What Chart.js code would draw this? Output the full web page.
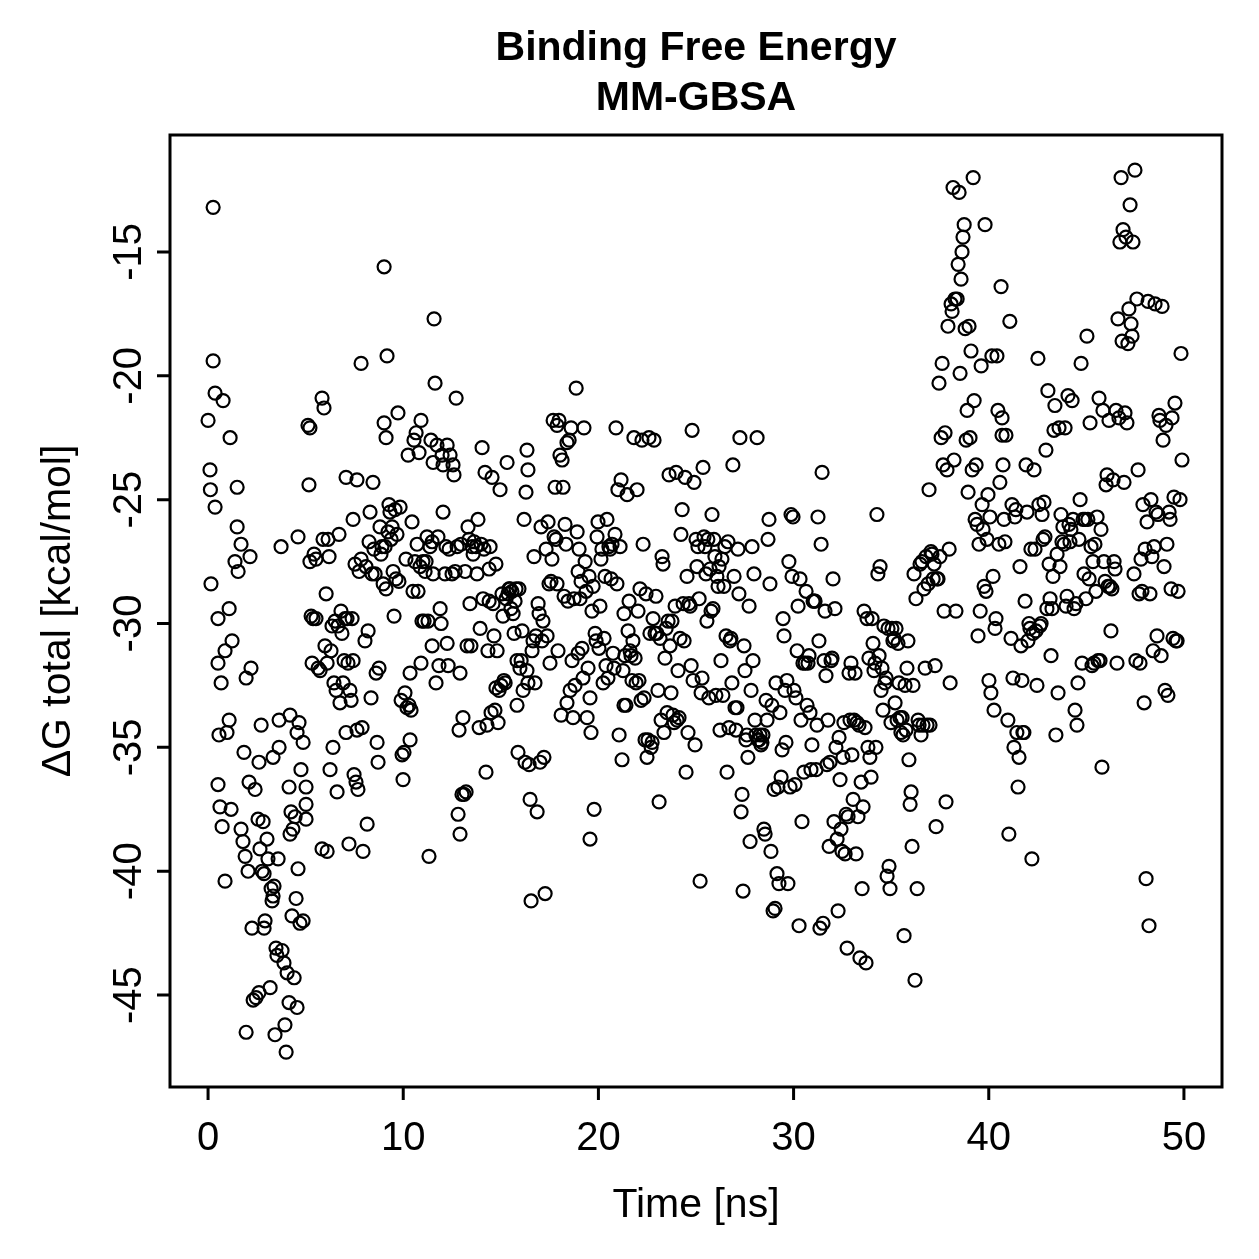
<!DOCTYPE html>
<html>
<head>
<meta charset="utf-8">
<script src="https://cdn.jsdelivr.net/npm/chart.js@4.4.0/dist/chart.umd.min.js"></script>
<style>
  html, body { margin: 0; padding: 0; background: #fff; }
  #wrap { width: 1259px; height: 1259px; }
</style>
</head>
<body>
<div id="wrap"><canvas id="chart" width="1259" height="1259"></canvas></div>
<script>
// time of each frame [ns]
const timeNs = [
  0.00,0.10,0.12,0.26,0.15,0.26,0.36,0.36,0.51,0.51,
  0.56,0.51,0.61,0.67,0.72,0.77,0.87,0.87,0.97,1.08,
  1.13,1.08,1.18,1.23,1.38,1.49,1.49,1.54,1.69,1.69,
  1.79,1.84,1.90,1.95,1.95,2.05,2.10,2.15,2.20,2.25,
  2.31,2.41,2.46,2.56,2.61,2.61,2.66,2.72,2.77,2.82,
  2.87,2.87,2.92,3.02,3.07,3.18,3.23,3.28,3.33,3.33,
  3.38,3.43,3.48,3.53,3.59,3.64,3.64,3.74,3.79,3.89,
  3.94,4.00,4.05,4.15,4.15,4.20,4.20,4.25,4.30,4.35,
  4.41,4.46,4.51,4.56,4.56,4.61,4.61,4.66,4.71,4.76,
  4.87,4.87,5.02,5.02,5.02,
  5.12,5.22,5.17,5.22,5.28,5.33,5.38,5.43,5.53,5.53,
  5.64,5.74,5.84,5.84,5.89,5.94,5.99,6.05,6.10,6.10,
  6.15,6.20,6.25,6.30,6.35,6.40,6.45,6.51,6.56,6.61,
  6.66,6.71,6.76,6.81,6.86,6.92,6.97,7.02,7.07,7.07,
  7.12,7.17,7.22,7.27,7.33,7.38,7.43,7.43,7.48,7.53,
  7.58,7.63,7.63,7.68,7.74,7.84,7.84,7.89,7.94,8.04,
  8.09,8.15,8.20,8.25,8.30,8.35,8.40,8.45,8.50,8.56,
  8.61,8.66,8.71,8.76,8.81,8.86,8.91,8.97,9.02,9.02,
  9.07,9.12,9.12,9.17,9.22,9.27,9.32,9.38,9.43,9.48,
  9.53,9.58,9.63,9.68,9.73,9.78,9.84,9.89,9.94,9.99,
  10.04,10.09,10.14,10.19,10.25,10.30,10.35,10.35,10.40,10.45,
  10.50,10.55,10.60,10.66,10.71,10.76,10.81,10.86,10.91,10.91,
  10.96,11.01,11.07,11.12,11.17,11.22,11.27,11.32,11.37,11.42,
  11.48,11.48,11.53,11.53,11.58,11.63,11.68,11.73,11.78,11.83,
  11.89,11.94,11.99,12.04,12.04,12.14,12.19,12.25,12.25,12.30,
  12.35,12.40,12.50,12.55,12.60,12.66,12.71,12.76,12.81,12.86,
  12.91,12.91,12.96,13.01,13.06,13.12,13.17,13.22,13.27,13.32,
  13.37,13.42,13.47,13.53,13.58,13.63,13.73,13.78,13.83,13.89,
  13.94,13.99,14.04,14.09,14.14,14.19,14.24,14.29,14.34,14.40,
  14.40,14.45,14.50,14.55,14.60,14.65,14.70,14.75,14.75,14.81,
  14.86,14.91,14.96,15.01,15.06,15.11,15.16,15.22,15.27,15.32,
  15.37,15.42,15.47,15.52,15.57,15.63,15.68,15.73,15.78,15.83,
  15.83,15.88,15.93,15.98,16.04,16.09,16.14,16.19,16.24,16.29,
  16.34,16.34,16.39,16.39,16.45,16.50,16.55,16.60,16.65,16.70,
  16.75,16.80,16.86,16.91,16.96,17.01,17.06,17.11,17.16,17.21,
  17.27,17.32,17.37,17.42,17.47,17.52,17.57,17.62,17.68,17.73,
  17.78,17.83,17.88,17.88,17.93,17.98,18.03,18.09,18.14,18.19,
  18.24,18.29,18.34,18.39,18.39,18.44,18.50,18.55,18.60,18.65,
  18.70,18.75,18.80,18.86,18.91,18.96,18.96,19.01,19.06,19.11,
  19.16,19.21,19.26,19.32,19.37,19.42,19.47,19.52,19.57,19.57,
  19.62,19.67,19.73,19.78,19.83,19.88,19.93,19.98,20.03,20.08,
  20.13,20.18,20.24,20.29,20.34,20.39,20.44,20.49,20.54,20.60,
  20.65,20.70,20.75,20.80,20.85,20.90,20.95,21.00,21.06,21.11,
  21.16,21.21,21.26,21.31,21.31,21.36,21.41,21.47,21.52,21.57,
  21.62,21.67,21.72,21.77,21.82,21.88,21.93,21.98,22.03,22.08,
  22.13,22.18,22.23,22.29,22.34,22.39,22.44,22.49,22.54,22.59,
  22.64,22.70,22.75,22.80,22.85,22.90,22.95,23.00,23.05,23.11,
  23.16,23.21,23.26,23.31,23.36,23.41,23.47,23.52,23.57,23.62,
  23.67,23.72,23.77,23.82,23.88,23.93,23.98,24.03,24.08,24.13,
  24.18,24.23,24.29,24.34,24.39,24.44,24.49,24.54,24.59,24.64,
  24.70,24.75,24.80,24.85,24.90,24.95,25.00,25.05,25.10,25.16,
  25.21,25.26,25.31,25.36,25.41,25.46,25.51,25.56,25.61,25.66,
  25.72,25.77,25.82,25.87,25.92,25.97,26.02,26.07,26.13,26.18,
  26.23,26.28,26.33,26.38,26.43,26.48,26.54,26.59,26.64,26.69,
  26.74,26.79,26.84,26.89,26.95,27.00,27.05,27.10,27.15,27.20,
  27.25,27.31,27.36,27.41,27.46,27.51,27.56,27.61,27.66,27.72,
  27.77,27.82,27.87,27.92,27.97,28.02,28.07,28.13,28.18,28.23,
  28.28,28.33,28.38,28.43,28.48,28.54,28.59,28.64,28.69,28.74,
  28.79,28.84,28.89,28.95,29.00,29.05,29.10,29.15,29.20,29.25,
  29.30,29.36,29.41,29.46,29.51,29.56,29.61,29.66,29.71,29.76,
  29.82,29.87,29.92,29.97,30.02,30.07,30.12,30.18,30.23,30.28,
  30.33,30.38,30.43,30.48,30.53,30.59,30.64,30.69,30.74,30.79,
  30.84,30.89,30.94,31.00,31.05,31.10,31.15,31.20,31.25,31.30,
  31.35,31.41,31.46,31.51,31.56,31.61,31.66,31.71,31.76,31.82,
  31.87,31.92,31.97,32.02,32.07,32.12,32.17,32.23,32.28,32.33,
  32.38,32.43,32.48,32.53,32.58,32.64,32.69,32.74,32.79,32.84,
  32.89,32.94,32.99,33.05,33.10,33.15,33.20,33.25,33.30,33.35,
  33.40,33.46,33.51,33.56,33.61,33.66,33.71,33.76,33.81,33.86,
  33.91,33.97,34.02,34.07,34.12,34.17,34.22,34.27,34.32,34.38,
  34.43,34.48,34.53,34.58,34.63,34.68,34.74,34.79,34.84,34.89,
  34.94,34.99,35.04,35.09,35.15,35.20,35.25,35.30,35.35,35.40,
  35.45,35.50,35.56,35.61,35.66,35.71,35.76,35.81,35.86,35.91,
  35.97,36.02,36.07,36.12,36.17,36.22,36.27,36.33,36.38,36.43,
  36.48,36.53,36.58,36.63,36.68,36.74,36.79,36.84,36.89,36.94,
  36.99,37.04,37.09,37.15,37.20,37.25,37.30,37.35,37.40,37.45,
  37.50,37.56,37.61,37.66,37.71,37.76,37.81,37.86,37.91,37.97,
  38.02,38.07,38.12,38.17,38.22,38.27,38.32,38.38,38.43,38.48,
  38.53,38.58,38.63,38.68,38.74,38.79,38.84,38.89,38.94,38.99,
  39.04,39.09,39.15,39.20,39.25,39.30,39.35,39.40,39.45,39.50,
  39.56,39.61,39.66,39.71,39.76,39.81,39.86,39.91,39.96,40.01,
  40.06,40.11,40.16,40.22,40.27,40.32,40.37,40.42,40.47,40.52,
  40.57,40.63,40.68,40.68,40.73,40.78,40.83,40.88,40.98,41.03,
  41.08,41.14,41.19,41.24,41.29,41.34,41.39,41.44,41.50,41.55,
  41.60,41.65,41.70,41.75,41.80,41.86,41.91,41.96,42.01,42.06,
  42.11,42.16,42.21,42.27,42.32,42.37,42.42,42.47,42.52,42.57,
  42.62,42.68,42.73,42.78,42.83,42.88,42.93,42.98,43.03,43.09,
  43.14,43.19,43.24,43.29,43.34,43.39,43.44,43.50,43.55,43.60,
  43.65,43.70,43.75,43.80,43.86,43.91,43.96,44.01,44.06,44.11,
  44.16,44.21,44.27,44.32,44.37,44.42,44.47,44.52,44.57,44.62,
  44.68,44.73,44.78,44.83,44.88,44.93,44.98,45.03,45.08,45.14,
  45.19,45.24,45.29,45.34,45.39,45.44,45.49,45.55,45.60,45.65,
  45.70,45.75,45.80,45.85,45.90,45.96,46.01,46.06,46.11,46.16,
  46.21,46.26,46.31,46.37,46.42,46.47,46.52,46.57,46.62,46.67,
  46.72,46.78,46.83,46.88,46.93,46.98,47.03,47.08,47.13,47.18,
  47.24,47.29,47.34,47.39,47.44,47.49,47.54,47.59,47.65,47.70,
  47.75,47.80,47.85,47.90,47.96,48.01,48.06,48.11,48.16,48.21,
  48.26,48.31,48.36,48.42,48.47,48.52,48.57,48.62,48.67,48.72,
  48.77,48.83,48.88,48.93,48.98,49.03,49.08,49.13,49.18,49.24,
  49.29,49.34,49.39,49.44,49.49,49.54,49.59,49.65,49.70,49.80,
  49.85,49.90
];

// ΔG total [kcal/mol] for each frame, same order as timeNs
const dGTotal = [
  -21.8,-23.8,-24.6,-13.2,-28.4,-19.4,-20.7,-25.3,-31.6,-29.8,
  -34.5,-36.5,-37.4,-32.4,-38.2,-21.0,-40.4,-31.1,-34.4,-33.9,
  -22.5,-29.4,-37.5,-30.7,-27.5,-26.1,-24.5,-27.9,-26.8,-38.3,
  -38.8,-35.2,-39.4,-46.5,-32.2,-40.0,-36.4,-27.3,-31.8,-42.3,
  -45.2,-36.7,-45.1,-37.9,-44.9,-35.6,-39.1,-34.1,-40.0,-38.0,
  -42.3,-40.1,-42.0,-38.7,-39.5,-44.7,-40.7,-41.2,-35.4,-41.0,
  -40.6,-46.6,-43.1,-43.4,-39.5,-35.0,-33.9,-26.9,-43.2,-43.7,
  -46.2,-47.3,-44.1,-36.6,-45.3,-33.7,-38.5,-37.6,-41.8,-38.3,
  -44.3,-37.8,-41.1,-34.4,-45.5,-26.5,-39.9,-34.0,-42.1,-35.9,
  -42.0,-34.8,-37.3,-36.6,-37.9,
  -22.0,-22.1,-24.4,-27.5,-29.7,-31.6,-29.8,-27.2,-27.4,-29.8,
  -31.8,-31.9,-39.1,-20.9,-26.6,-21.3,-30.9,-28.8,-39.2,-31.6,
  -26.6,-27.3,-35.9,-31.1,-30.1,-35.0,-32.4,-29.9,-32.7,-36.8,
  -30.1,-26.4,-33.2,-29.5,-30.4,-32.4,-31.5,-29.8,-24.1,-34.4,
  -29.8,-31.6,-38.9,-32.7,-33.1,-29.8,-25.8,-31.5,-36.1,-27.6,
  -36.4,-24.2,-34.3,-36.7,-27.9,-19.5,-27.4,-34.2,-39.2,-30.7,
  -27.7,-38.1,-30.3,-26.7,-25.5,-33.0,-28.0,-24.3,-27.0,-28.0,
  -32.0,-34.8,-35.6,-31.8,-26.1,-27.2,-26.9,-28.4,-15.6,-21.9,
  -26.9,-22.5,-28.6,-19.2,-26.3,-25.2,-25.5,-26.6,-26.1,-27.9,
  -29.7,-25.4,-28.2,-26.4,-21.5,-28.3,-25.3,-33.1,-35.3,-36.3,
  -35.2,-32.8,-27.4,-33.4,-23.2,-33.3,-32.0,-34.7,-33.5,-25.9,
  -28.7,-22.6,-27.5,-22.3,-26.8,-28.7,-23.1,-27.7,-31.6,-21.8,
  -29.9,-27.5,-29.9,-27.9,-27.5,-26.5,-29.9,-39.4,-26.9,-22.6,
  -26.7,-30.9,-23.5,-28.0,-17.7,-20.3,-32.4,-22.8,-26.5,-31.7,
  -29.4,-30.0,-23.2,-23.6,-25.5,-28.0,-26.9,-30.8,-22.8,-31.7,
  -27.0,-23.2,-28.0,-23.6,-24.0,-27.9,-20.9,-26.9,-37.7,-34.3,
  -32.0,-38.5,-26.8,-36.9,-33.8,-36.9,-27.9,-36.8,-30.9,-26.1,
  -26.6,-29.2,-30.9,-26.9,-27.2,-26.7,-26.9,-28.0,-25.8,-34.2,
  -30.2,-26.8,-22.9,-29.0,-27.0,-23.9,-36.0,-34.1,-31.1,-29.1,
  -27.8,-26.9,-33.6,-24.1,-29.2,-30.5,-33.5,-27.6,-32.6,-31.1,
  -34.0,-32.7,-24.6,-32.5,-28.8,-29.7,-32.3,-32.4,-29.0,-23.5,
  -28.8,-28.6,-28.6,-29.4,-28.7,-29.6,-30.4,-29.1,-28.6,-31.5,
  -33.3,-35.2,-28.6,-31.8,-31.5,-30.3,-32.7,-25.8,-35.6,-24.7,
  -31.9,-23.0,-32.4,-23.8,-35.7,-37.1,-41.2,-31.1,-30.7,-27.3,
  -32.4,-30.5,-37.6,-29.2,-29.6,-35.6,-26.1,-30.7,-29.9,-35.4,
  -40.9,-27.0,-30.5,-25.9,-28.4,-31.6,-28.3,-27.4,-21.8,-26.5,
  -24.5,-26.6,-22.0,-28.4,-31.1,-21.8,-23.2,-33.7,-23.4,-24.5,
  -28.9,-26.0,-26.8,-22.7,-33.2,-29.1,-22.6,-32.7,-22.1,-31.5,
  -33.8,-29.0,-32.5,-20.5,-26.3,-27.9,-31.2,-27.0,-29.0,-28.3,
  -31.0,-32.2,-22.1,-27.5,-28.7,-33.8,-31.8,-28.1,-33.0,-38.7,
  -34.4,-29.5,-28.5,-37.5,-30.4,-30.7,-26.5,-25.9,-31.0,-29.3,
  -27.4,-27.0,-32.4,-30.6,-28.1,-31.7,-25.8,-32.2,-26.9,-27.0,
  -28.2,-26.8,-31.2,-31.8,-26.4,-22.1,-28.4,-24.6,-34.5,-26.9,
  -24.2,-35.5,-31.9,-33.3,-29.6,-31.3,-33.3,-24.8,-30.3,-29.1,
  -31.1,-31.3,-32.3,-30.7,-22.5,-31.4,-32.4,-24.6,-29.5,-32.3,
  -28.6,-33.1,-22.6,-26.8,-33.0,-34.7,-28.8,-35.4,-34.7,-22.5,
  -30.4,-35.0,-34.8,-29.8,-22.6,-30.4,-28.9,-30.4,-32.7,-37.2,
  -30.6,-33.9,-27.3,-27.6,-34.4,-31.4,-30.2,-33.6,-29.9,-24.0,
  -30.9,-32.8,-29.9,-33.7,-34.0,-29.3,-23.9,-33.9,-31.9,-33.8,
  -30.6,-26.4,-25.4,-29.2,-30.7,-24.1,-36.0,-28.1,-34.4,-29.2,
  -29.3,-31.7,-22.2,-32.3,-24.3,-34.9,-26.6,-27.7,-26.9,-29.0,
  -40.4,-32.8,-32.2,-23.7,-26.5,-26.9,-28.0,-29.9,-26.6,-33.0,
  -27.8,-29.5,-25.6,-29.4,-26.6,-27.3,-32.9,-28.1,-28.5,-27.7,
  -34.3,-31.5,-27.4,-32.9,-28.5,-26.9,-30.5,-36.0,-26.7,-34.2,
  -30.7,-30.6,-32.4,-23.6,-28.1,-33.4,-34.3,-33.4,-27.0,-28.8,
  -22.5,-37.6,-36.9,-40.8,-30.9,-31.9,-34.7,-34.5,-35.4,-29.3,
  -38.8,-32.7,-26.9,-31.5,-28.0,-33.9,-34.5,-22.5,-34.7,-34.7,
  -34.5,-34.9,-34.8,-34.5,-38.3,-38.5,-33.1,-33.9,-26.6,-25.8,
  -28.4,-39.2,-33.3,-41.6,-36.7,-41.5,-32.4,-40.1,-36.6,-40.5,
  -33.6,-36.2,-35.1,-29.8,-30.5,-32.7,-34.8,-32.3,-40.5,-27.5,
  -36.6,-25.6,-28.1,-25.7,-32.7,-36.5,-33.0,-31.1,-29.3,-42.2,
  -28.2,-33.9,-38.0,-31.6,-36.0,-31.6,-28.7,-33.3,-31.6,-31.3,
  -33.6,-35.9,-34.9,-29.1,-29.1,-29.1,-35.9,-34.1,-25.7,-30.7,
  -42.3,-26.8,-23.9,-42.1,-31.5,-29.5,-32.1,-35.7,-33.9,-39.0,
  -35.6,-31.5,-31.4,-28.2,-38.0,-29.4,-35.0,-38.7,-41.6,-34.6,
  -36.3,-38.3,-39.2,-35.4,-34.0,-39.3,-37.7,-43.1,-37.8,-32.0,
  -33.9,-31.6,-35.3,-37.1,-33.9,-32.0,-39.3,-34.0,-37.8,-34.1,
  -43.5,-36.4,-40.7,-37.4,-29.5,-34.2,-43.7,-29.8,-35.0,-31.4,
  -35.4,-36.2,-29.8,-30.8,-31.9,-31.6,-35.0,-25.6,-28.0,-31.3,
  -27.7,-32.7,-31.8,-33.5,-30.1,-32.4,-32.2,-40.2,-30.2,-39.8,
  -40.7,-34.0,-30.2,-30.7,-30.6,-33.2,-30.2,-33.9,-30.8,-32.4,
  -33.8,-34.4,-33.8,-34.5,-42.6,-32.5,-34.3,-31.8,-30.7,-35.5,
  -37.3,-36.8,-39.0,-32.5,-28.0,-44.4,-29.0,-40.7,-33.9,-34.1,
  -27.6,-34.5,-27.5,-34.1,-28.6,-31.8,-27.3,-34.1,-28.4,-24.6,
  -34.1,-27.1,-27.2,-28.2,-27.6,-31.7,-38.2,-28.2,-28.2,-20.3,
  -27.3,-22.5,-19.5,-23.6,-29.5,-22.3,-37.2,-23.8,-18.0,-27.0,
  -32.4,-17.1,-17.4,-12.4,-23.4,-16.9,-29.5,-16.9,-15.5,-12.6,
  -19.9,-16.1,-15.0,-14.4,-13.9,-18.1,-22.6,-21.4,-24.7,-18.0,
  -22.5,-19.0,-23.8,-12.0,-21.0,-25.8,-23.6,-26.0,-30.5,-26.8,
  -29.5,-19.6,-25.2,-26.2,-28.5,-13.9,-28.7,-26.6,-24.8,-32.3,
  -25.7,-32.8,-19.2,-28.1,-33.5,-30.2,-29.8,-19.2,-21.4,-26.8,
  -24.3,-16.4,-21.7,-22.4,-23.6,-25.8,-26.7,-22.4,-33.9,-38.5,
  -17.8,-30.6,-25.2,-32.2,-35.0,-25.7,-25.4,-34.4,-36.6,-35.4,
  -27.7,-30.9,-32.3,-34.4,-34.4,-29.1,-23.6,-25.5,-30.7,-30.0,
  -30.2,-27.0,-39.5,-30.4,-23.8,-27.0,-30.3,-32.5,-19.3,-25.2,
  -30.1,-30.0,-25.6,-26.6,-25.1,-26.5,-23.0,-29.4,-20.6,-27.6,
  -29.0,-31.3,-29.4,-28.1,-22.2,-21.2,-34.5,-27.2,-32.8,-22.1,
  -27.7,-25.6,-26.7,-26.1,-26.8,-22.1,-29.3,-28.9,-20.8,-26.0,
  -26.7,-26.2,-21.0,-25.8,-29.4,-33.5,-29.2,-34.1,-32.4,-26.6,
  -25.0,-19.5,-31.6,-25.8,-28.0,-25.8,-29.0,-18.4,-25.8,-28.2,
  -21.9,-26.9,-31.7,-27.5,-31.6,-26.8,-28.7,-25.7,-31.5,-20.9,
  -31.5,-26.2,-35.8,-21.4,-27.5,-28.3,-24.4,-24.0,-28.5,-21.8,
  -28.5,-30.3,-28.6,-24.2,-27.5,-27.8,-21.4,-31.6,-17.7,-21.7,
  -14.6,-12.0,-18.6,-14.1,-24.3,-21.5,-14.4,-21.9,-18.7,-17.3,
  -13.1,-17.9,-18.4,-14.6,-28.0,-11.7,-31.5,-16.9,-23.8,-28.8,
  -31.6,-27.4,-28.7,-25.2,-33.2,-27.0,-40.3,-25.9,-17.0,-42.2,
  -28.8,-25.0,-27.3,-31.1,-26.9,-17.1,-25.5,-30.5,-25.6,-21.6,
  -21.8,-31.3,-17.2,-22.6,-27.7,-32.7,-22.0,-26.8,-32.9,-25.5,
  -25.8,-28.6,-21.7,-30.6,-24.9,-21.1,-30.7,-30.7,-28.7,-25.0,
  -19.1,-23.4
];

const xTicks = [0, 10, 20, 30, 40, 50];
const yTicks = [-45, -40, -35, -30, -25, -20, -15];
const titleLines = ['Binding Free Energy', 'MM-GBSA'];
const xLabel = 'Time [ns]';
const yLabel = 'ΔG total [kcal/mol]';

const FONT = '"Liberation Sans", Arial, Helvetica, sans-serif';

// R base-graphics look: box, outward ticks, rotated y labels, titles
const rAxes = {
  id: 'rAxes',
  afterDraw(chart) {
    const { ctx, chartArea: a, scales: { x, y } } = chart;
    const cx = (a.left + a.right) / 2;
    const cy = (a.top + a.bottom) / 2;
    ctx.save();
    ctx.strokeStyle = '#000';
    ctx.fillStyle = '#000';
    ctx.lineWidth = 3;
    ctx.strokeRect(a.left, a.top, a.right - a.left, a.bottom - a.top);

    ctx.beginPath();
    xTicks.forEach(v => {
      const px = x.getPixelForValue(v);
      ctx.moveTo(px, a.bottom);
      ctx.lineTo(px, a.bottom + 13);
    });
    yTicks.forEach(v => {
      const py = y.getPixelForValue(v);
      ctx.moveTo(a.left, py);
      ctx.lineTo(a.left - 13, py);
    });
    ctx.stroke();

    ctx.font = '40px ' + FONT;
    ctx.textAlign = 'center';
    ctx.textBaseline = 'alphabetic';
    xTicks.forEach(v => {
      ctx.fillText(String(v), x.getPixelForValue(v), 1150);
    });
    yTicks.forEach(v => {
      ctx.save();
      ctx.translate(141, y.getPixelForValue(v));
      ctx.rotate(-Math.PI / 2);
      ctx.fillText(String(v), 0, 0);
      ctx.restore();
    });

    ctx.font = '41px ' + FONT;
    ctx.fillText(xLabel, cx, 1217);
    ctx.save();
    ctx.translate(70, cy);
    ctx.rotate(-Math.PI / 2);
    ctx.fillText(yLabel, 0, 0);
    ctx.restore();

    ctx.font = 'bold 41px ' + FONT;
    ctx.fillText(titleLines[0], cx, 60);
    ctx.fillText(titleLines[1], cx, 110);
    ctx.restore();
  }
};

const points = timeNs.map((t, i) => ({ x: t, y: dGTotal[i] }));

new Chart(document.getElementById('chart'), {
  type: 'scatter',
  data: {
    datasets: [{
      data: points,
      pointStyle: 'circle',
      pointRadius: 6.5,
      pointBorderWidth: 2.2,
      borderColor: '#000',
      backgroundColor: 'rgba(0,0,0,0)'
    }]
  },
  options: {
    responsive: false,
    animation: false,
    layout: { padding: { left: 170, right: 37, top: 135, bottom: 172 } },
    plugins: { legend: { display: false }, tooltip: { enabled: false }, title: { display: false } },
    scales: {
      x: { type: 'linear', display: false, min: -1.95, max: 51.95 },
      y: { type: 'linear', display: false, min: -48.71, max: -10.28 }
    }
  },
  plugins: [rAxes]
});
</script>
</body>
</html>
